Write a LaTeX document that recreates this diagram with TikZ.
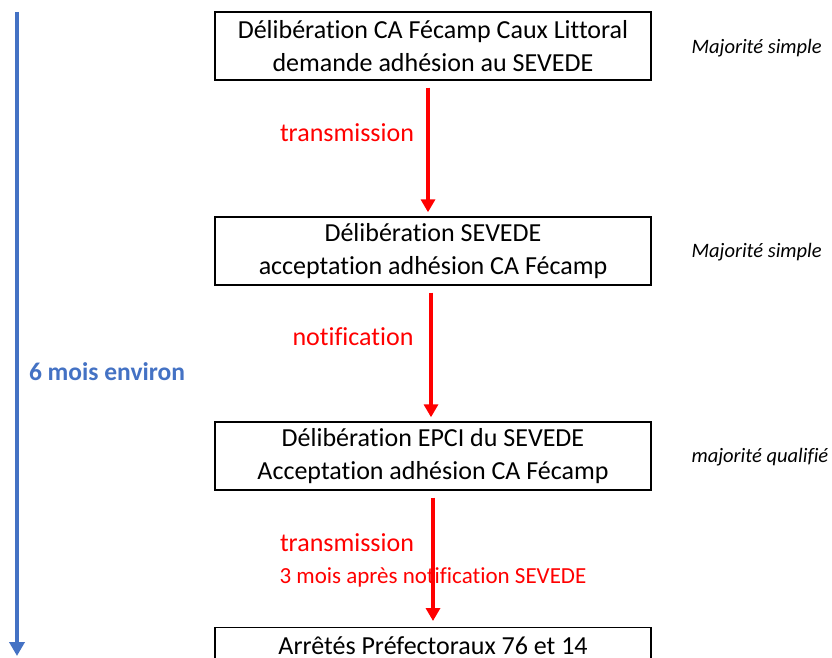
\documentclass[tikz,border=0pt]{standalone}
\usepackage{fontspec}
\setmainfont{Carlito}[Ligatures=NoCommon]
\usepackage{xcolor}
\usetikzlibrary{arrows.meta, positioning, calc}
\definecolor{officeblue}{HTML}{4472C4}

\begin{document}
\begin{tikzpicture}[
    x=1pt, y=-1pt,
    stepbox/.style={rectangle, draw, line width=1.4pt, minimum width=436pt, minimum height=68pt, inner sep=0pt, align=center, font=\fontsize{26}{33}\selectfont},
    redarrow/.style={-{Triangle[length=13pt, width=14pt]}, red, line width=3.6pt},
    bluearrow/.style={-{Triangle[length=14pt, width=15pt]}, officeblue, line width=4pt},
    redlabel/.style={font=\fontsize{26}{30}\selectfont, text=red},
    vote/.style={font=\fontsize{20.5}{24}\selectfont\itshape, anchor=west}
]
\clip (0,0) rectangle (832,658);
\useasboundingbox (0,0) rectangle (832,658);

% Steps
\node[stepbox] (b1) at (433,46) {Délibération CA Fécamp Caux Littoral\\demande adhésion au SEVEDE};
\node[stepbox] (b2) at (433,251) {Délibération SEVEDE\\acceptation adhésion CA Fécamp};
\node[stepbox] (b3) at (433,456) {Délibération EPCI du SEVEDE\\Acceptation adhésion CA Fécamp};
\node[stepbox, anchor=north] (b4) at (433,627) {Arrêtés Préfectoraux 76 et 14\\\phantom{x}};

% Arrows
\draw[redarrow, shorten <=7pt, shorten >=4pt] ($(b1.south)+(-5,0)$) -- ($(b2.north)+(-5,0)$);
\draw[redarrow, shorten <=7pt, shorten >=4pt] ($(b2.south)+(-2,0)$) -- ($(b3.north)+(-2,0)$);
\draw[redarrow, shorten <=7pt, shorten >=6pt] (b3.south) -- (b4.north);

% Labels on the arrows
\node[redlabel] (t1) at (347,133) {transmission};
\node[redlabel] (t2) at (353,337) {notification};
\node[redlabel] (t3) at (347,543) {transmission};
\node[redlabel, font=\fontsize{23}{26}\selectfont] (t4) at (433,577) {3 mois après notification SEVEDE};

% Votes
\node[vote] (v1) at (688,48) {Majorité simple};
\node[vote] (v2) at (688,252) {Majorité simple};
\node[vote] (v3) at (688,457) {majorité qualifié};

% Time line
\coordinate (tstart) at (17,12);
\coordinate (tend) at (17,656);
\draw[bluearrow] (tstart) -- (tend);
\node[font=\fontsize{25.5}{30}\selectfont\bfseries, text=officeblue] (dur) at (107,372) {6 mois environ};
\end{tikzpicture}
\end{document}
